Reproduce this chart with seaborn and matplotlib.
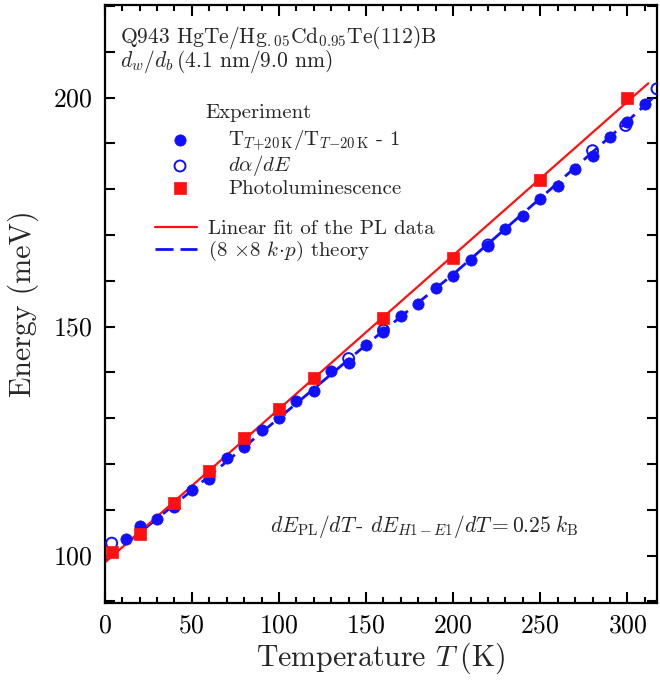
import numpy as np
import pandas as pd
import matplotlib
matplotlib.use("Agg")
import matplotlib.pyplot as plt
import seaborn as sns
from matplotlib.ticker import MultipleLocator

# ---------------- data ----------------
trans_T = [12, 20, 30, 40, 50, 60, 70, 80, 90, 100, 110, 120, 130, 140, 150,
           160, 170, 180, 190, 200, 210, 220, 230, 240, 250, 260, 270, 280,
           290, 300, 310]
trans_E = [103.5, 106.5, 108.0, 110.6, 114.4, 116.8, 121.2, 123.6, 127.5,
           130.1, 133.7, 136.0, 140.2, 142.1, 145.9, 148.8, 152.2, 155.0,
           158.4, 161.1, 164.6, 167.5, 171.3, 174.1, 177.9, 180.6, 184.4,
           187.3, 191.3, 194.6, 198.6]

abs_T = [4, 140, 160, 220, 280, 299, 317]
abs_E = [102.7, 143.0, 149.2, 167.8, 188.4, 193.9, 201.9]

pl_T = [4, 20, 40, 60, 80, 100, 120, 160, 200, 250, 300]
pl_E = [100.8, 104.7, 111.5, 118.4, 125.6, 131.9, 138.7, 151.8, 164.9, 181.9, 200.0]

theory_T = [0, 50, 100, 150, 200, 250, 300, 320]
theory_E = [98.8, 114.2, 130.0, 146.0, 161.4, 178.0, 194.8, 201.8]

fit_T_range = [0, 312]

# ---------------- style ----------------
sns.set_theme(style="ticks")
plt.rcParams["font.family"] = "serif"
plt.rcParams["font.serif"] = ["cmr10"]
plt.rcParams["mathtext.fontset"] = "cm"
plt.rcParams["axes.formatter.use_mathtext"] = True
plt.rcParams["axes.unicode_minus"] = False

BLUE = "#1010ff"
RED = "#ff1010"

fig = plt.figure(figsize=(6.6, 6.81), dpi=100)
ax = fig.add_axes([104.7 / 660, (681 - 602.7) / 681, (657 - 104.7) / 660, (602.7 - 5) / 681])

# linear fit of PL data
slope, icpt = np.polyfit(pl_T, pl_E, 1)
fit_df = pd.DataFrame({"T": fit_T_range, "E": [icpt + slope * t for t in fit_T_range]})
th_df = pd.DataFrame({"T": theory_T, "E": theory_E})

TH_LABEL = r"(8 $\times$8 $k\!\cdot\!p$) theory"
FIT_LABEL = "Linear fit of the PL data"
TR_LABEL = r"T$_{T\mathrm{+20\,K}}$/T$_{T\mathrm{-20\,K}}$ - 1"
AB_LABEL = r"$d\alpha/dE$"
PL_LABEL = "Photoluminescence"

sns.lineplot(data=th_df, x="T", y="E", ax=ax, color=BLUE, lw=2.0,
             label=TH_LABEL, zorder=2)
ax.lines[-1].set_dashes([6.5, 2.5])
sns.lineplot(data=fit_df, x="T", y="E", ax=ax, color=RED, lw=1.6,
             label=FIT_LABEL, zorder=2)

sns.scatterplot(x=trans_T, y=trans_E, ax=ax, color=BLUE, edgecolor=BLUE, s=66,
                marker="o", linewidth=0.5, zorder=3, label=TR_LABEL)
sns.scatterplot(x=abs_T, y=abs_E, ax=ax, facecolors="none", edgecolor=BLUE, s=62,
                marker="o", linewidth=1.4, zorder=3, label=AB_LABEL)
sns.scatterplot(x=pl_T, y=pl_E, ax=ax, color=RED, edgecolor=RED, s=64,
                marker="s", linewidth=0.5, zorder=4, label=PL_LABEL)

ax.set_xlim(0, 317)
ax.set_ylim(89.7, 220.2)
ax.xaxis.set_major_locator(MultipleLocator(50))
ax.xaxis.set_minor_locator(MultipleLocator(10))
ax.yaxis.set_major_locator(MultipleLocator(50))
ax.yaxis.set_minor_locator(MultipleLocator(10))
ax.tick_params(which="both", direction="in", top=True, right=True, width=1.5,
               labelsize=18.5, colors="black")
ax.tick_params(axis="x", which="major", length=8, pad=8)
ax.tick_params(axis="x", which="minor", length=4)
ax.tick_params(axis="y", which="major", length=7, pad=9)
ax.tick_params(axis="y", which="minor", length=7)
for sp in ax.spines.values():
    sp.set_linewidth(1.6)
    sp.set_color("black")

ax.set_xlabel(r"Temperature $T\;$(K)", fontsize=21.5, labelpad=2)
ax.set_ylabel("Energy (meV)", fontsize=21.5, labelpad=10)

# legends
handles, labels = ax.get_legend_handles_labels()
hmap = dict(zip(labels, handles))
exp_labels = [TR_LABEL, AB_LABEL, PL_LABEL]
line_labels = [FIT_LABEL, TH_LABEL]
leg1 = ax.legend([hmap[l] for l in exp_labels], exp_labels, loc="upper left",
                 bbox_to_anchor=(0.1175, 0.794), frameon=False, fontsize=15,
                 handlelength=1.0, handletextpad=1.81, borderpad=0, borderaxespad=0,
                 labelspacing=0.03)
ax.add_artist(leg1)
ax.legend([hmap[l] for l in line_labels], line_labels, loc="upper left",
          bbox_to_anchor=(0.091, 0.641), frameon=False, fontsize=15,
          handlelength=2.02, handletextpad=0.53, borderpad=0, borderaxespad=0,
          labelspacing=0.03)

ax.text(0.1816, 0.819, "Experiment", transform=ax.transAxes, fontsize=15, va="center", ha="left")
ax.text(0.0277, 0.946, r"Q943 HgTe/Hg$_{.05}$Cd$_{0.95}$Te(112)B", transform=ax.transAxes,
        fontsize=15.5, va="center", ha="left")
ax.text(0.0277, 0.905, r"$d_w/d_b\,$(4.1 nm/9.0 nm)", transform=ax.transAxes,
        fontsize=15.5, va="center", ha="left")
ax.text(0.578, 0.1267, r"$dE_{\mathrm{PL}}/dT\,$- $dE_{H1\,\mathrm{-}\,E1}/dT = 0.25\;k_{\mathrm{B}}$",
        transform=ax.transAxes, fontsize=15.5, va="center", ha="center")

fig.savefig("out.png", dpi=100)
